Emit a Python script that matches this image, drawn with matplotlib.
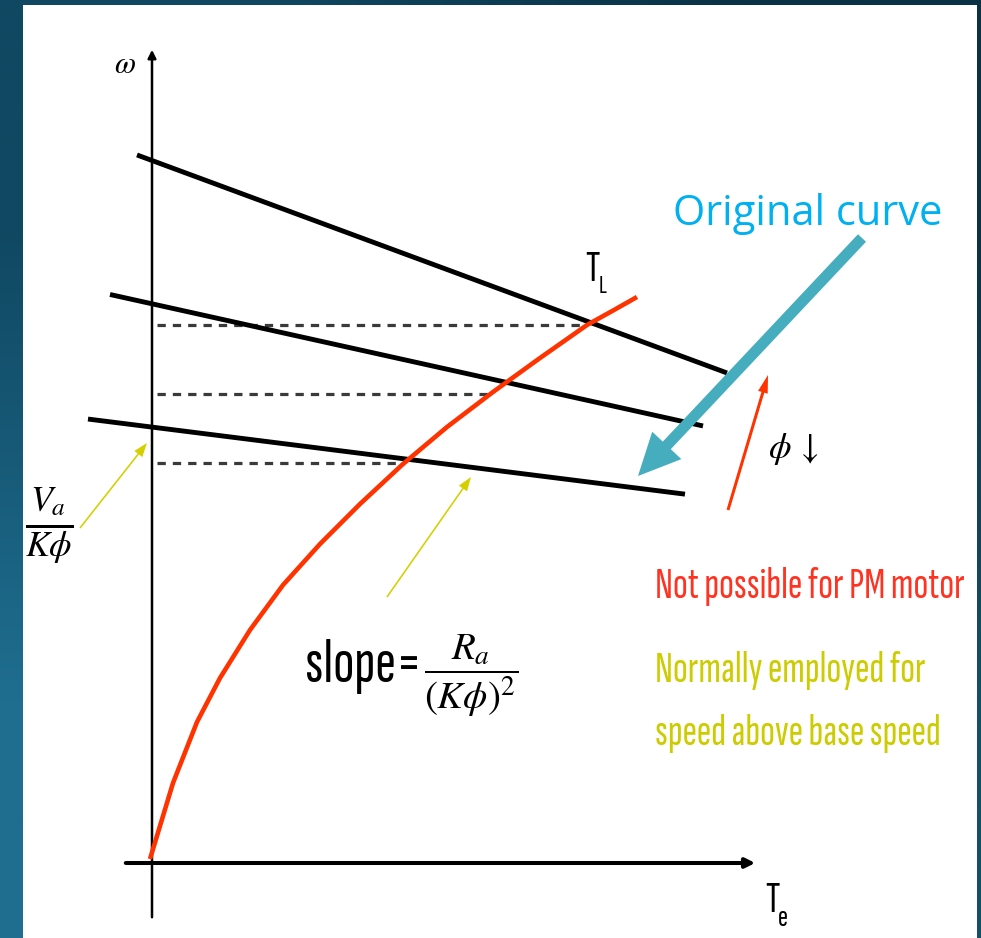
import numpy as np
import matplotlib
matplotlib.use("Agg")
import matplotlib.pyplot as plt

plt.rcParams["mathtext.fontset"] = "stix"

# speed-torque lines for three flux levels (weaker flux -> higher speed, steeper droop)
no_load_speed = [701.5, 558.2, 434.9]
speed_droop = [0.3695, 0.2217, 0.1258]
line_start = [-15, -42, -64]
line_end = [575, 551, 533]

# load torque characteristic T_L
load_torque = [-2, 21, 45, 68, 98, 131, 168, 208, 251, 295, 341, 388, 435, 462, 485]
load_speed = [3, 79, 140, 184, 232, 277, 318, 358, 398, 435, 470, 504, 537, 552, 565]

# operating speeds, marked with dashed lines back to the speed axis
operating_speed = [537, 468, 399]

NARROW = ["Sofia Sans Extra Condensed", "DejaVu Sans"]
RED = "#ff3300"
YELLOW = "#d4d000"
TEAL = "#45adbe"

fig = plt.figure(figsize=(9.81, 9.38), dpi=100)

# slide background
bg = fig.add_axes([0, 0, 1, 1])
grad = np.array([[[16, 72, 98], [10, 50, 70]],
                 [[31, 110, 144], [20, 80, 105]]]) / 255.0
bg.imshow(grad, extent=(0, 1, 0, 1), aspect="auto", interpolation="bilinear")
bg.axis("off")

ax = fig.add_axes([23 / 981, 0, 954 / 981, 933 / 938])
ax.set_xlim(-129, 825)
ax.set_ylim(-76, 857)
ax.set_xticks([])
ax.set_yticks([])
for s in ax.spines.values():
    s.set_visible(False)
ax.set_facecolor("white")

# axes arrows
ax.annotate("", xy=(0, 815), xytext=(0, -58),
            arrowprops=dict(arrowstyle="-|>", lw=1.8, color="black", mutation_scale=12))
ax.annotate("", xy=(606, -1), xytext=(-29, -1),
            arrowprops=dict(arrowstyle="-|>", lw=2.9, color="black", mutation_scale=14))

# speed-torque lines
for w0, k, t0, t1 in zip(no_load_speed, speed_droop, line_start, line_end):
    t = np.array([t0, t1])
    ax.plot(t, w0 - k * t, color="black", lw=3.5, solid_capstyle="butt", zorder=3)

# dashed operating speed markers
for w in operating_speed:
    t_op = np.interp(w, load_speed, load_torque)
    ax.plot([5, t_op], [w, w], color="#3a3a3a", lw=2.3, ls=(0, (2.6, 2.2)), zorder=2)

# load torque curve
ax.plot(load_torque, load_speed, color=RED, lw=3.3, zorder=4,
        solid_capstyle="butt", solid_joinstyle="round")

# arrows
ax.arrow(710, 624, 486 - 710, 386 - 624, width=11, head_width=40, head_length=42,
         length_includes_head=True, color=TEAL, lw=0, zorder=5)
ax.arrow(576, 352, 40, 135, width=3, head_width=10, head_length=18,
         length_includes_head=True, color=RED, lw=0, zorder=5)
ax.arrow(-72, 334, 67, 85, width=1.6, head_width=10, head_length=14,
         length_includes_head=True, color=YELLOW, lw=0, zorder=5)
ax.arrow(235, 265, 84, 120, width=1.6, head_width=10, head_length=14,
         length_includes_head=True, color=YELLOW, lw=0, zorder=5)

# axis and curve labels
ax.text(-27, 798, r"$\omega$", fontsize=22, ha="center", va="center")
ax.text(433, 612, "T", fontsize=32, family=NARROW, ha="left", va="top")
ax.text(447, 587, "L", fontsize=19, family=NARROW, ha="left", va="top")
ax.text(613, -19, "T", fontsize=32, family=NARROW, ha="left", va="top")
ax.text(626, -43, "e", fontsize=22, family=NARROW, ha="left", va="top")
ax.text(616, 413, r"$\phi\,\downarrow$", fontsize=26, ha="left", va="center")

ax.text(-103, 336, r"$\frac{V_a}{K\phi}$", fontsize=37, ha="center", va="center")
ax.text(153, 180, "slope=", fontsize=45, family=NARROW, ha="left", va="baseline")
ax.text(319, 186, r"$\dfrac{R_a}{(K\phi)^2}$", fontsize=28,
        ha="center", va="center")

ax.text(521, 637, "Original curve", fontsize=30, family=["Open Sans", "DejaVu Sans"],
        color="#00b0f0", ha="left", va="baseline")
ax.text(503, 264, "Not possible for PM motor", fontsize=31.5, family=NARROW,
        color="#ff3322", ha="left", va="baseline")
ax.text(503, 180, "Normally employed for", fontsize=31.5, family=NARROW,
        color="#cccc00", ha="left", va="baseline")
ax.text(503, 117, "speed above base speed", fontsize=31.5, family=NARROW,
        color="#cccc00", ha="left", va="baseline")

fig.savefig("out.png", dpi=100)
